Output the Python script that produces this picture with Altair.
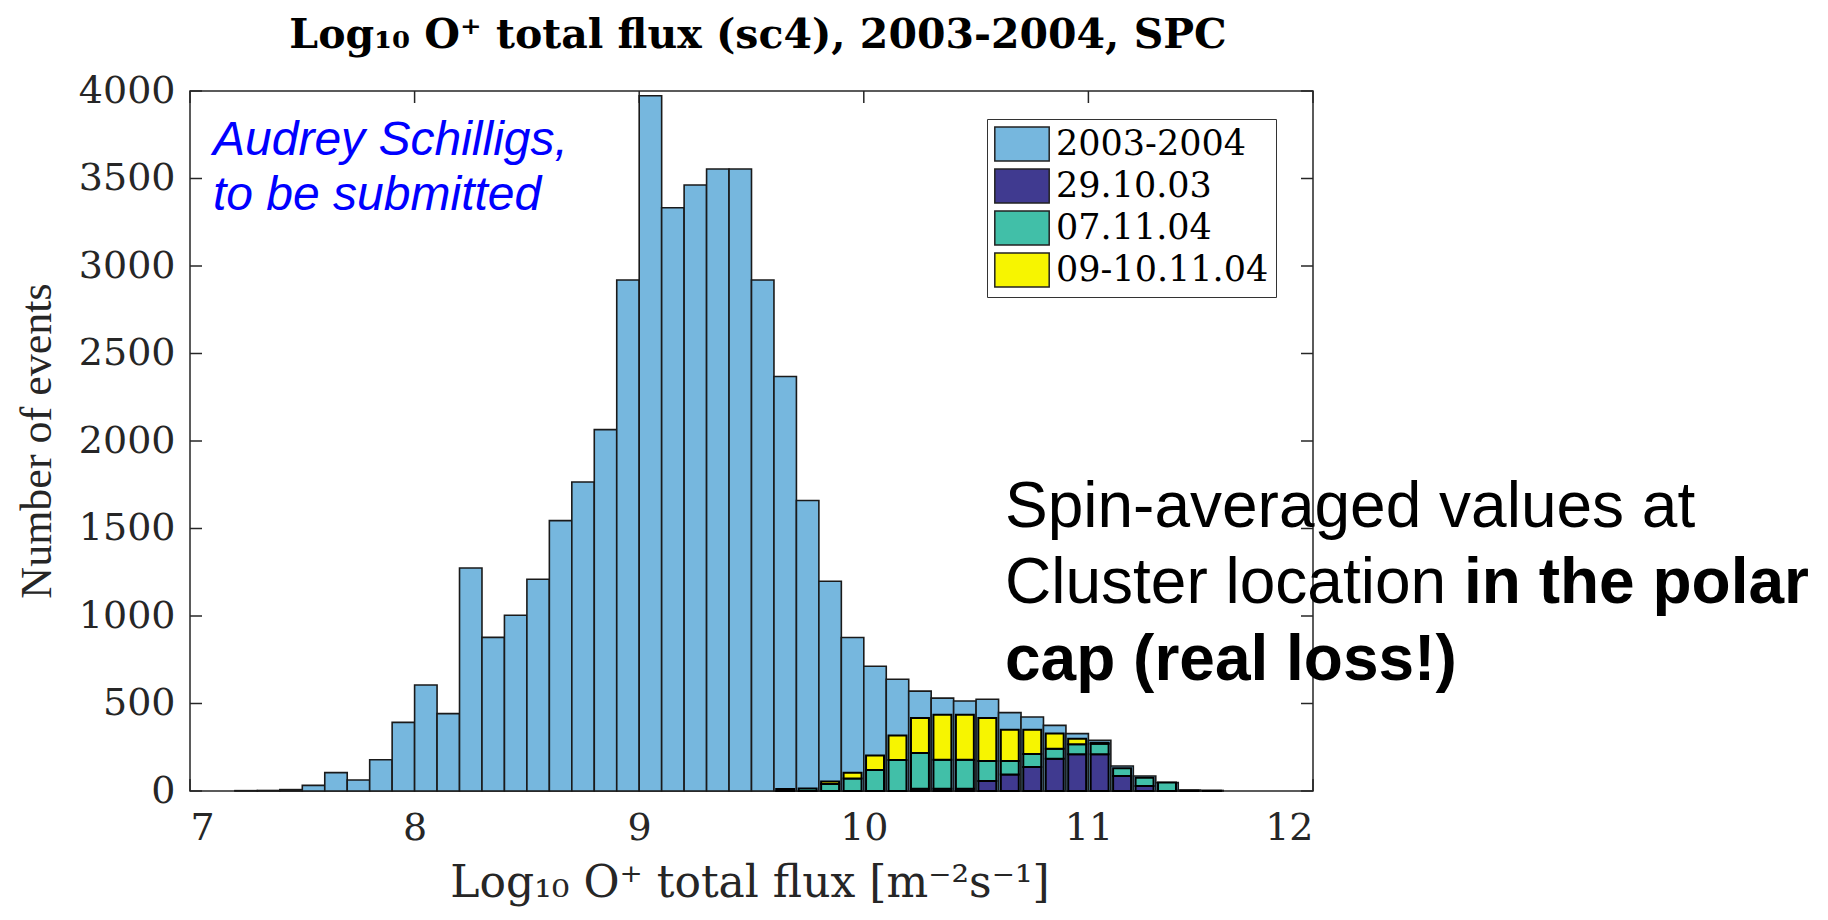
import altair as alt
import pandas as pd

# ---------------- data ----------------
bin_starts = [7.2, 7.3, 7.4, 7.5, 7.6, 7.7, 7.8, 7.9,
              8.0, 8.1, 8.2, 8.3, 8.4, 8.5, 8.6, 8.7, 8.8, 8.9,
              9.0, 9.1, 9.2, 9.3, 9.4, 9.5, 9.6, 9.7, 9.8, 9.9,
              10.0, 10.1, 10.2, 10.3, 10.4, 10.5, 10.6, 10.7, 10.8, 10.9,
              11.0, 11.1, 11.2, 11.3, 11.4, 11.5]
counts_2003_2004 = [2, 3, 8, 32, 105, 63, 179, 392,
                    606, 442, 1274, 878, 1004, 1210, 1545, 1766, 2065, 2920,
                    3973, 3333, 3463, 3554, 3554, 2920, 2369, 1660, 1199, 877,
                    713, 639, 571, 531, 514, 524, 448, 423, 375, 328,
                    290, 143, 86, 48, 5, 3]

stack_bins = [9.6, 9.7, 9.8, 9.9, 10.0, 10.1, 10.2, 10.3, 10.4, 10.5,
              10.6, 10.7, 10.8, 10.9, 11.0, 11.1, 11.2, 11.3, 11.4, 11.5]
counts_291003 = [12, 0, 0, 0, 0, 0, 13, 13, 13, 57,
                 95, 137, 185, 210, 210, 86, 29, 0, 0, 0]
counts_071104 = [0, 15, 40, 71, 120, 177, 204, 166, 166, 114,
                 76, 74, 57, 57, 60, 44, 47, 48, 3, 2]
counts_091011 = [0, 0, 14, 33, 83, 140, 200, 257, 257, 246,
                 179, 139, 86, 32, 6, 0, 0, 0, 0, 0]

series_names = ["2003-2004", "29.10.03", "07.11.04", "09-10.11.04"]
series_colors = ["#76B7DE", "#403A90", "#41BFA8", "#F7F500"]

x_ticks = [7, 8, 9, 10, 11, 12]
y_ticks = [0, 500, 1000, 1500, 2000, 2500, 3000, 3500, 4000]

BIN_W = 0.1
STACK_INSET = 0.01

title_text = "Log\u2081\u2080 O\u207a total flux (sc4), 2003-2004, SPC"
xlabel_text = "Log\u2081\u2080 O\u207a total flux [m\u207b\u00b2s\u207b\u00b9]"
ylabel_text = "Number of events"
author_lines = ["Audrey Schilligs,", "to be submitted"]

# ---------------- tables ----------------
W, H = 1123, 700

hist_df = pd.DataFrame({
    "x0": bin_starts,
    "x1": [b + BIN_W for b in bin_starts],
    "base": [0] * len(bin_starts),
    "count": counts_2003_2004,
    "series": series_names[0],
})

rows = []
for i, b in enumerate(stack_bins):
    base = 0
    for name, vals in zip(series_names[1:], [counts_291003, counts_071104, counts_091011]):
        v = vals[i]
        if v > 0:
            rows.append({"x0": b + STACK_INSET, "x1": b + BIN_W - STACK_INSET,
                         "y0": base, "y1": base + v, "series": name})
        base += v
stack_df = pd.DataFrame(rows)

xs = alt.Scale(domain=[7, 12], nice=False, zero=False)
ys = alt.Scale(domain=[0, 4000], nice=False)
ax_x = alt.Axis(values=x_ticks, format="d", labelPadding=18, title=None)
ax_y = alt.Axis(values=y_ticks, format="d", labelPadding=15, title=None)

legend = alt.Legend(
    title=None, orient="none", legendX=797, legendY=28,
    symbolType="M-1.6,-1H1.6V1H-1.6Z", symbolSize=1156,
    symbolStrokeColor="#222222", symbolStrokeWidth=1.5, symbolOpacity=1,
    symbolOffset=10, labelOffset=16,
    labelFont="DejaVu Serif", labelFontSize=35, labelColor="#000000", labelLimit=400,
    padding=7, rowPadding=2, strokeColor="#333333", fillColor="#FFFFFF",
)
color = alt.Color("series:N", scale=alt.Scale(domain=series_names, range=series_colors),
                  legend=legend)

# ---------------- inward ticks (MATLAB style) ----------------
xt_df = pd.DataFrame({"t": x_ticks})
yt_df = pd.DataFrame({"t": y_ticks})
TICK = 12
tick_color = "#262626"
ticks_bottom = alt.Chart(xt_df).mark_rule(color=tick_color, strokeWidth=1.5).encode(
    x=alt.X("t:Q", scale=xs, axis=ax_x), y=alt.value(H), y2=alt.value(H - TICK))
ticks_top = alt.Chart(xt_df).mark_rule(color=tick_color, strokeWidth=1.5).encode(
    x=alt.X("t:Q", scale=xs, axis=ax_x), y=alt.value(0), y2=alt.value(TICK))
ticks_left = alt.Chart(yt_df).mark_rule(color=tick_color, strokeWidth=1.5).encode(
    y=alt.Y("t:Q", scale=ys, axis=ax_y), x=alt.value(0), x2=alt.value(TICK))
ticks_right = alt.Chart(yt_df).mark_rule(color=tick_color, strokeWidth=1.5).encode(
    y=alt.Y("t:Q", scale=ys, axis=ax_y), x=alt.value(W), x2=alt.value(W - TICK))

# ---------------- bars ----------------
hist = alt.Chart(hist_df).mark_bar(stroke="#1a1a1a", strokeWidth=1.6, opacity=1).encode(
    x=alt.X("x0:Q", scale=xs, axis=ax_x),
    x2="x1:Q",
    y=alt.Y("count:Q", scale=ys, axis=ax_y),
    y2="base:Q",
    color=color,
)
stack = alt.Chart(stack_df).mark_bar(stroke="#000000", strokeWidth=2, opacity=1).encode(
    x=alt.X("x0:Q", scale=xs, axis=ax_x),
    x2="x1:Q",
    y=alt.Y("y0:Q", scale=ys, axis=ax_y),
    y2="y1:Q",
    color=color,
)

# ---------------- text ----------------
def label(text, x, y, **kw):
    return alt.Chart(pd.DataFrame({"t": [text]})).mark_text(**kw).encode(
        text="t:N", x=alt.value(x), y=alt.value(y))

title = label(title_text, 568, -43, font="DejaVu Serif", fontSize=41, fontWeight="bold",
              align="center", baseline="alphabetic", color="#000000")
xlabel = label(xlabel_text, 560, 806, font="DejaVu Serif", fontSize=44,
               align="center", baseline="alphabetic", color="#262626")
ylabel = label(ylabel_text, -152, 350, font="Liberation Serif", fontSize=44, angle=270,
               align="center", baseline="middle", color="#262626")
author1 = label(author_lines[0], 23, 64, font="Liberation Sans", fontSize=48, fontStyle="italic",
                align="left", baseline="alphabetic", color="#0000FF")
author2 = label(author_lines[1], 23, 119, font="Liberation Sans", fontSize=48, fontStyle="italic",
                align="left", baseline="alphabetic", color="#0000FF")
note1 = label("Spin-averaged values at", 815, 436, font="Liberation Sans", fontSize=64,
              align="left", baseline="alphabetic", color="#000000")
note2a = label("Cluster location", 815, 512, font="Liberation Sans", fontSize=64,
               align="left", baseline="alphabetic", color="#000000")
note2b = label("in the polar", 1274, 512, font="Liberation Sans", fontSize=64, fontWeight="bold",
               align="left", baseline="alphabetic", color="#000000")
note3 = label("cap (real loss!)", 815, 589, font="Liberation Sans", fontSize=64, fontWeight="bold",
              align="left", baseline="alphabetic", color="#000000")

chart = alt.layer(
    ticks_bottom, ticks_top, ticks_left, ticks_right,
    hist, stack,
    title, xlabel, ylabel, author1, author2, note1, note2a, note2b, note3,
).properties(
    width=W, height=H,
    autosize=alt.AutoSizeParams(type="none"),
    padding={"left": 182, "top": 83, "right": 500, "bottom": 120},
    background="#FFFFFF",
).configure_view(
    stroke="#262626", strokeWidth=1.5,
).configure_axis(
    grid=False, domain=False, ticks=False,
    labelFont="DejaVu Serif", labelFontSize=38, labelColor="#262626",
)

chart.save("out.html", embed_options={"renderer": "svg", "actions": False})
